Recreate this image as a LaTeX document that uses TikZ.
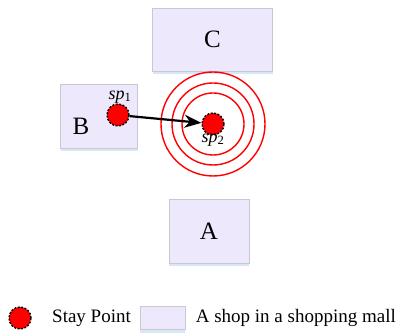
\documentclass[tikz,border=0pt]{standalone}
\usepackage{fontspec}
\setmainfont{Liberation Serif}
\usetikzlibrary{arrows.meta, positioning, shadows}
\definecolor{shopfill}{RGB}{238,232,252}
\definecolor{shopline}{RGB}{200,200,210}
\definecolor{shopshade}{RGB}{190,215,240}
\newcommand{\spname}[1]{\textit{sp}\textsubscript{#1}}

\begin{document}
\begin{tikzpicture}[
    x=1pt, y=-1pt,
    shop/.style={draw=shopline, fill=shopfill, line width=0.6pt,
      drop shadow={shadow xshift=0pt, shadow yshift=-3pt, fill=shopshade, opacity=0.6}},
    letter/.style={font=\fontsize{25}{29}\selectfont},
    stay/.style={circle, fill=red, draw=black, dash pattern=on 2pt off 1.5pt, line width=1.4pt,
      minimum size=22pt, inner sep=0pt},
    ring/.style={red, line width=1.4pt},
    arrow/.style={-{Stealth[length=17pt, width=13pt]}, line width=2.2pt},
    lbl/.style={font=\fontsize{18}{21}\selectfont, inner sep=1pt},
    legend/.style={font=\fontsize{19}{22}\selectfont, inner sep=0pt}
]
\useasboundingbox (0,0) rectangle (409,336);

% shops
\node[shop, minimum width=120pt, minimum height=63pt, letter] (shopc) at (212.5,39.5) {C};
\node[shop, minimum width=77pt, minimum height=64pt] (shopb) at (99,116) {};
\node[letter] (lb) at (81,126) {B};
\node[shop, minimum width=80pt, minimum height=64pt, letter] (shopa) at (209,231.5) {A};

% rings round the second stay point
\coordinate (ctr) at (213,124);
\foreach \r in {31,41,52}
  \draw[ring] (ctr) circle (\r pt);

% stay points
\node[stay] (sp1) at (118,115) {};
\node[stay] (sp2) at (213,124) {};
\node[lbl, above=-1pt of sp1, xshift=2pt] (sp1lbl) {\spname{1}};
\node[lbl, below=-3pt of sp2] (sp2lbl) {\spname{2}};
\draw[arrow] (sp1) -- (sp2);

% legend
\node[stay] (legdot) at (20,318) {};
\node[legend, anchor=west] (legstay) at (52,318) {Stay Point};
\node[shop, minimum width=45pt, minimum height=23pt, inner sep=0pt, right=9pt of legstay] (legshop) {};
\node[legend, right=10pt of legshop] (legtxt) {A shop in a shopping mall};
\end{tikzpicture}
\end{document}
